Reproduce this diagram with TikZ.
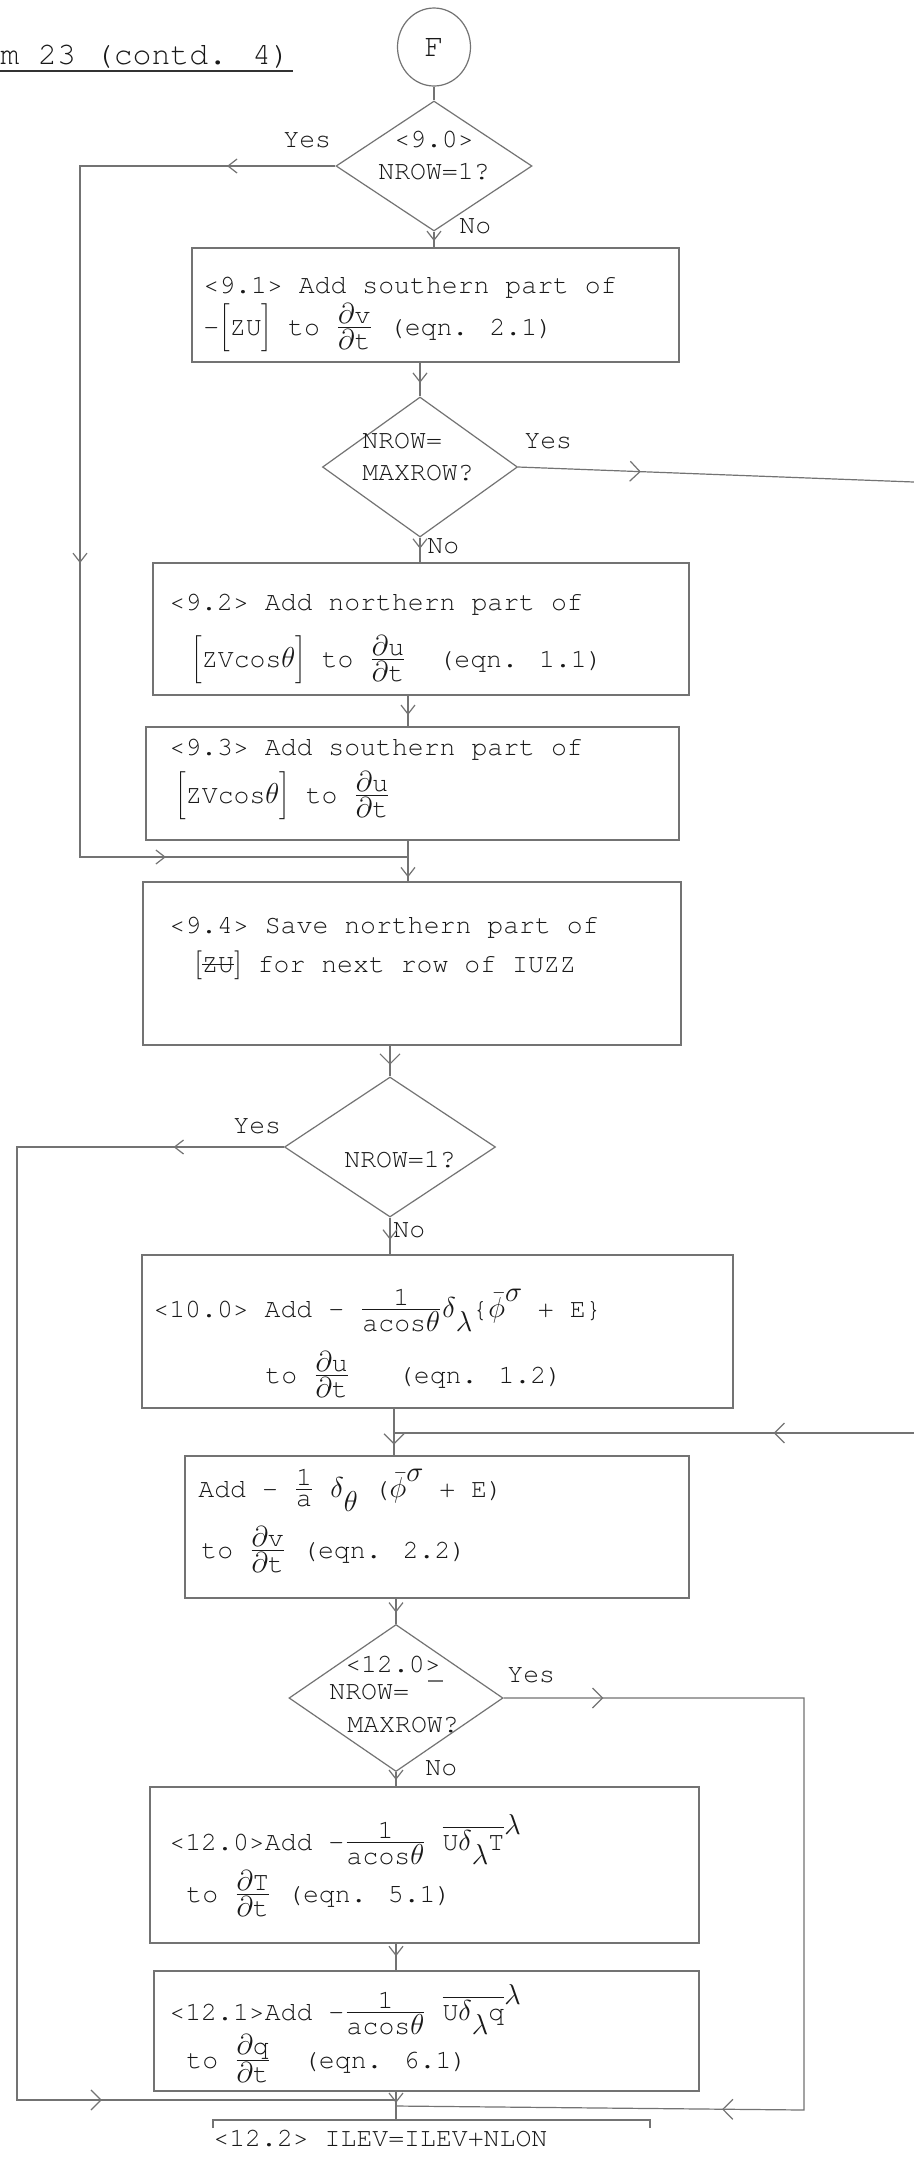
\documentclass[tikz,border=0pt]{standalone}
\usepackage{fontspec}
\setmainfont{TeX Gyre Cursor}
\usetikzlibrary{shapes.geometric,arrows.meta,decorations.markings}

\newcommand\tsz{\fontsize{13.25pt}{16pt}\selectfont}
\newcommand\pd{$\partial$}
\newcommand\gth{$\theta$}
\newcommand\gde{$\delta$}
\newcommand\gla{$\lambda$}
\newcommand\gsi{$\sigma$}
\newcommand\dfr[2]{$\frac{\mbox{#1}}{\mbox{#2}}$}
\newcommand\zbr[1]{$\bigg[$#1$\bigg]$}
\newcommand\zbrs[1]{$\Big[$#1$\Big]$}
\newcommand\mysub[1]{\raisebox{-0.55em}{#1}}
\newcommand\mysup[1]{\raisebox{0.6em}{#1}}
\newcommand\ovl[1]{$\overline{\mbox{#1}}$}
\newcommand\phib{$\bar{\phi}$}
\newcommand\zustrike{\makebox[0pt][l]{ZU}\raisebox{0.28em}{\rule{1.2em}{0.5pt}}}

\tikzset{
  ln/.style={draw=black!55, color=black!55, line width=0.6pt},
  box/.style={ln, rectangle, inner sep=0pt},
  dia/.style={ln, diamond, inner sep=0pt},
  txt/.style={anchor=base west, inner sep=0pt, text=black!90, font=\tsz},
  ctxt/.style={anchor=base, inner sep=0pt, text=black!90, font=\tsz},
  arrat/.style={postaction={decorate,decoration={markings,
      mark=at position #1 with {\arrow{Straight Barb[length=4.5pt,width=7pt,line width=0.6pt]}}}}},
  bigarrat/.style={postaction={decorate,decoration={markings,
      mark=at position #1 with {\arrow{Straight Barb[length=5pt,width=10pt,line width=0.6pt]}}}}},
}

\begin{document}
\begin{tikzpicture}[x=0.5pt,y=-0.5pt]
\fill[white] (0,0) rectangle (914,2160);
\useasboundingbox (0,0) rectangle (914,2160);

% trunk columns
\coordinate (xA) at (434,0);
\coordinate (xB) at (420,0);
\coordinate (xC) at (408,0);
\coordinate (xD) at (394,0);
\coordinate (xE) at (396,0);

% title
\node[txt, font=\fontsize{15.75pt}{18pt}\selectfont] (title) at (0,64) {m 23 (contd. 4)};
\draw[ln, draw=black!80] ([yshift=-3.5pt]title.base west) -- ([yshift=-3.5pt,xshift=1pt]title.base east);

% connector circle
\node[ln, ellipse, minimum width=36.5pt, minimum height=39pt, inner sep=0pt,
      text=black!90, font=\fontsize{16pt}{16pt}\selectfont] (F) at (434,47) {F};

% diamonds
\node[dia, minimum width=98pt, minimum height=65pt] (d90) at (434,166) {};
\node[ctxt] (d90a) at (434,147) {<9.0>};
\node[ctxt] (d90b) at (434,179) {NROW=1?};

\node[dia, minimum width=97.5pt, minimum height=70pt] (d2) at (420,467) {};
\node[txt] (d2a) at (362,448) {NROW=};
\node[txt] (d2b) at (362,480) {MAXROW?};

\node[dia, minimum width=105.5pt, minimum height=70pt] (d3) at (390,1147) {};
\node[ctxt] (d3a) at (400,1167) {NROW=1?};

\node[dia, minimum width=107pt, minimum height=73.5pt] (d12) at (396,1698) {};
\node[ctxt] (d12a) at (393,1672) {<12.0>};
\node[txt] (d12b) at (329,1699) {NROW=};
\node[txt] (d12c) at (347,1732) {MAXROW?};
\coordinate (dsA) at (428,1681);
\coordinate (dsB) at (443,1681);
\draw[ln] (dsA) -- (dsB);

% Yes / No labels
\node[txt] (yes1) at (283,147) {Yes};
\node[txt] (yes2) at (524,448) {Yes};
\node[txt] (yes3) at (233,1133) {Yes};
\node[txt] (yes4) at (507,1682) {Yes};
\node[txt] (no1) at (459,233) {No};
\node[txt] (no2) at (427,553) {No};
\node[txt] (no3) at (393,1237) {No};
\node[txt] (no4) at (425,1775) {No};

% boxes
\node[box, minimum width=243.5pt, minimum height=57pt] (b91) at (435.5,305) {};
\node[txt] (t91a) at (203,293) {<9.1> Add southern part of};
\node[txt] (t91b) at (203,335) {-\zbr{ZU} to \dfr{\pd v}{\pd t} (eqn. 2.1)};

\node[box, minimum width=268pt, minimum height=66pt] (b92) at (421,629) {};
\node[txt] (t92a) at (169,610) {<9.2> Add northern part of};
\node[txt] (t92b) at (191,667) {\zbr{ZVcos\gth} to \dfr{\pd u}{\pd t}~~(eqn. 1.1)};

\node[box, minimum width=266.5pt, minimum height=56.5pt] (b93) at (412.5,783.5) {};
\node[txt] (t93a) at (169,755) {<9.3> Add southern part of};
\node[txt] (t93b) at (175,803) {\zbr{ZVcos\gth} to \dfr{\pd u}{\pd t}};

\node[box, minimum width=269pt, minimum height=81.5pt] (b94) at (412,963.5) {};
\node[txt] (t94a) at (169,933) {<9.4> Save northern part of};
\node[txt] (t94b) at (194,972) {\zbrs{\zustrike} for next row of IUZZ};

\node[box, minimum width=295.5pt, minimum height=76.5pt] (b100) at (437.5,1331.5) {};
\node[txt] (t100a) at (153,1317) {<10.0> Add - \dfr{1}{acos\gth}\gde\mysub{\gla}\{\phib\mysup{\gsi} + E\}};
\node[txt] (t100b) at (265,1383) {to \dfr{\pd u}{\pd t}~~~(eqn. 1.2)};

\node[box, minimum width=252pt, minimum height=71pt] (b11) at (437,1527) {};
\node[txt] (t11a) at (198,1497) {Add - \dfr{1}{a} \gde\mysub{\gth} (\phib\mysup{\gsi} + E)};
\node[txt] (t11b) at (201,1558) {to \dfr{\pd v}{\pd t} (eqn. 2.2)};

\node[box, minimum width=274.5pt, minimum height=78pt] (b120) at (424.5,1865) {};
\node[txt] (t120a) at (169,1850) {<12.0>Add -\dfr{1}{acos\gth} \ovl{U\gde\mysub{\gla}T}\mysup{\gla}};
\node[txt] (t120b) at (186,1902) {to \dfr{\pd T}{\pd t} (eqn. 5.1)};

\node[box, minimum width=272.5pt, minimum height=60pt] (b121) at (426.5,2031) {};
\node[txt] (t121a) at (169,2020) {<12.1>Add -\dfr{1}{acos\gth} \ovl{U\gde\mysub{\gla}q}\mysup{\gla}};
\node[txt] (t121b) at (186,2068) {to \dfr{\pd q}{\pd t}~~(eqn. 6.1)};

% box 12.2 (top edge only visible)
\coordinate (b122L) at (213,2120);
\coordinate (b122R) at (650,2120);
\draw[ln] ([yshift=-4pt]b122L) -- (b122L) -- (b122R) -- ([yshift=-4pt]b122R);
\node[txt] (t122) at (213,2146) {<12.2> ILEV=ILEV+NLON};

% main trunk
\draw[ln] (F.south) -- (d90.north);
\draw[ln, arrat=0.6] (d90.south) -- (d90.south |- b91.north);
\draw[ln, arrat=0.6] (d2.north |- b91.south) -- (d2.north);
\draw[ln, arrat=0.45] (d2.south) -- (d2.south |- b92.north);
\draw[ln, arrat=0.63] (xC |- b92.south) -- (xC |- b93.north);
\draw[ln, arrat=0.9] (xC |- b93.south) -- (xC |- b94.north);
\draw[ln, bigarrat=0.62] (d3.north |- b94.south) -- (d3.north);
\draw[ln, arrat=0.6] (d3.south) -- (d3.south |- b100.north);
\draw[ln, bigarrat=0.77] (xD |- b100.south) -- (xD |- b11.north);
\draw[ln, arrat=0.55] (d12.north |- b11.south) -- (d12.north);
\draw[ln, arrat=0.55] (d12.south) -- (d12.south |- b120.north);
\draw[ln, arrat=0.47] (xE |- b120.south) -- (xE |- b121.north);
\draw[ln, arrat=0.4] (xE |- b121.south) -- (xE |- b122L);

% loop 1 (Yes of 9.0)
\coordinate (L1a) at (80,166);
\coordinate (L1b) at (80,857);
\draw[ln, arrat=0.085, arrat=0.512, arrat=0.81] (d90.west) -- (L1a) -- (L1b) -- (xC |- L1b);

% exit right (Yes of NROW=MAXROW?)
\coordinate (R1) at (914,482);
\draw[ln, bigarrat=0.31] (d2.east) -- (R1);

% entry from right
\coordinate (R2) at (914,1433);
\draw[ln, bigarrat=0.27] (R2) -- (xD |- R2);

% loop 2 (Yes of NROW=1?)
\coordinate (L2a) at (17,1147);
\coordinate (L2b) at (17,2100);
\draw[ln, arrat=0.069, bigarrat=0.816] (d3.west) -- (L2a) -- (L2b) -- (xE |- L2b);

% loop 3 (Yes of 12.0)
\coordinate (R3a) at (804,1698);
\coordinate (R3b) at (804,2110);
\coordinate (R3c) at (396,2106);
\draw[ln, bigarrat=0.089, bigarrat=0.709] (d12.east) -- (R3a) -- (R3b) -- (R3c);
\end{tikzpicture}
\end{document}
